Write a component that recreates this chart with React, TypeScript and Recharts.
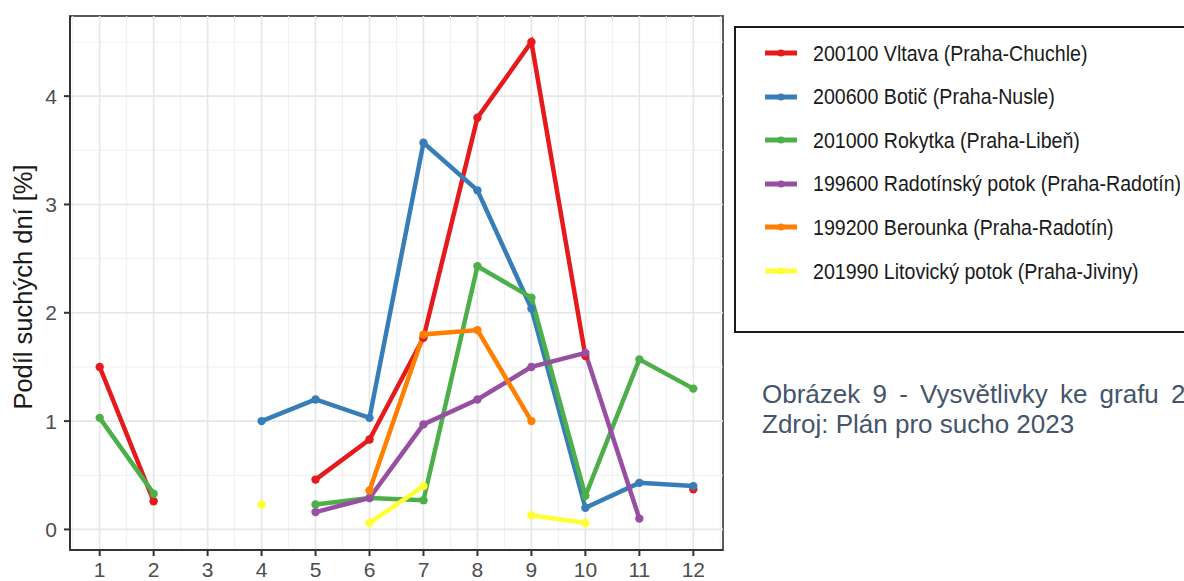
import React from "react";
import { LineChart, Line, XAxis, YAxis, ReferenceLine, ReferenceArea } from "recharts";

// měsíce 1–12, podíl suchých dní [%]
const months = [1, 2, 3, 4, 5, 6, 7, 8, 9, 10, 11, 12];
const vltava = [1.5, 0.26, null, null, 0.46, 0.83, 1.77, 3.8, 4.5, 1.6, null, 0.37];
const botic = [null, null, null, 1.0, 1.2, 1.03, 3.57, 3.13, 2.04, 0.2, 0.43, 0.4];
const rokytka = [1.03, 0.33, null, null, 0.23, 0.29, 0.27, 2.43, 2.14, 0.31, 1.57, 1.3];
const radotinsky = [null, null, null, null, 0.16, 0.29, 0.97, 1.2, 1.5, 1.63, 0.1, null];
const berounka = [null, null, null, null, null, 0.36, 1.8, 1.84, 1.0, null, null, null];
const litovicky = [null, null, null, 0.23, null, 0.06, 0.4, null, 0.13, 0.06, null, null];

const xTicks = [1, 2, 3, 4, 5, 6, 7, 8, 9, 10, 11, 12];
const yTicks = [0, 1, 2, 3, 4];
const xMinor = [0.5, 1.5, 2.5, 3.5, 4.5, 5.5, 6.5, 7.5, 8.5, 9.5, 10.5, 11.5, 12.5];
const yMinor = [0.5, 1.5, 2.5, 3.5, 4.5];

const series = [
  { key: "vltava", name: "200100 Vltava (Praha-Chuchle)", color: "#E41A1C", values: vltava },
  { key: "botic", name: "200600 Botič (Praha-Nusle)", color: "#377EB8", values: botic },
  { key: "rokytka", name: "201000 Rokytka (Praha-Libeň)", color: "#4DAF4A", values: rokytka },
  { key: "radotinsky", name: "199600 Radotínský potok (Praha-Radotín)", color: "#984EA3", values: radotinsky },
  { key: "berounka", name: "199200 Berounka (Praha-Radotín)", color: "#FF7F00", values: berounka },
  { key: "litovicky", name: "201990 Litovický potok (Praha-Jiviny)", color: "#FFFF33", values: litovicky },
];

const data = months.map((m, i) => {
  const row: Record<string, number | null> = { month: m };
  series.forEach((s) => {
    row[s.key] = s.values[i];
  });
  return row;
});

const FONT = "'Liberation Sans', Arial, Helvetica, sans-serif";
const X_DOMAIN: [number, number] = [0.45, 12.55];
const Y_DOMAIN: [number, number] = [-0.19, 4.74];

function YLabel({ viewBox }: any) {
  const x = viewBox.x + 13;
  const y = viewBox.y + viewBox.height / 2 + 4;
  return (
    <text
      x={x}
      y={y}
      transform={`rotate(-90 ${x} ${y})`}
      textAnchor="middle"
      dominantBaseline="central"
      fontSize={25.5}
      fontFamily={FONT}
      fill="#1a1a1a"
    >
      Podíl suchých dní [%]
    </text>
  );
}

function LegendBox() {
  return (
    <div
      style={{
        position: "absolute",
        left: 734,
        top: 26,
        width: 470,
        height: 307,
        boxSizing: "border-box",
        border: "2px solid #1a1a1a",
        background: "#fff",
        fontFamily: FONT,
      }}
    >
      {series.map((s, i) => (
        <div
          key={s.key}
          style={{
            position: "absolute",
            left: 29,
            top: 25 + i * 43.6 - 15,
            height: 30,
            display: "flex",
            alignItems: "center",
            whiteSpace: "nowrap",
          }}
        >
          <svg width={32} height={12} style={{ display: "block" }}>
            <line x1={0} y1={6} x2={32} y2={6} stroke={s.color} strokeWidth={5} />
            <circle cx={16} cy={6} r={3.5} fill={s.color} />
          </svg>
          <span
            style={{
              marginLeft: 16,
              fontSize: 19.6,
              color: "#1a1a1a",
              display: "inline-block",
              transform: "scaleY(1.12)",
            }}
          >
            {s.name}
          </span>
        </div>
      ))}
    </div>
  );
}

export default function App() {
  return (
    <div
      style={{
        position: "absolute",
        left: 0,
        top: 0,
        width: 1184,
        height: 581,
        overflow: "hidden",
        background: "#fff",
      }}
    >
      <div style={{ position: "absolute", left: 0, top: 0 }}>
        <LineChart width={740} height={581} data={data} margin={{ top: 16, right: 17, bottom: 0, left: 10 }}>
          <XAxis
            dataKey="month"
            type="number"
            domain={X_DOMAIN}
            ticks={xTicks}
            allowDataOverflow
            height={31}
            tickSize={6}
            tickMargin={6}
            axisLine={{ stroke: "#333", strokeWidth: 2 }}
            tickLine={{ stroke: "#333", strokeWidth: 2 }}
            tick={{ fill: "#4d4d4d", fontSize: 21, fontFamily: FONT }}
          />
          <YAxis
            type="number"
            domain={Y_DOMAIN}
            ticks={yTicks}
            allowDataOverflow
            width={60}
            tickSize={6}
            tickMargin={7}
            axisLine={{ stroke: "#333", strokeWidth: 2 }}
            tickLine={{ stroke: "#333", strokeWidth: 2 }}
            tick={{ fill: "#4d4d4d", fontSize: 21, fontFamily: FONT }}
            label={<YLabel />}
          />
          {xMinor.map((v) => (
            <ReferenceLine key={`xm${v}`} x={v} stroke="#f0f0f0" strokeWidth={1} ifOverflow="hidden" />
          ))}
          {yMinor.map((v) => (
            <ReferenceLine key={`ym${v}`} y={v} stroke="#f0f0f0" strokeWidth={1} ifOverflow="hidden" />
          ))}
          {xTicks.map((v) => (
            <ReferenceLine key={`xM${v}`} x={v} stroke="#e6e6e6" strokeWidth={1.6} ifOverflow="hidden" />
          ))}
          {yTicks.map((v) => (
            <ReferenceLine key={`yM${v}`} y={v} stroke="#e6e6e6" strokeWidth={1.6} ifOverflow="hidden" />
          ))}
          <ReferenceArea
            x1={X_DOMAIN[0]}
            x2={X_DOMAIN[1]}
            y1={Y_DOMAIN[0]}
            y2={Y_DOMAIN[1]}
            fill="none"
            stroke="#5a5a5a"
            strokeWidth={2}
            ifOverflow="visible"
          />
          {series.map((s) => (
            <Line
              key={s.key}
              dataKey={s.key}
              name={s.name}
              stroke={s.color}
              strokeWidth={4.5}
              dot={{ r: 4.2, fill: s.color, stroke: s.color, strokeWidth: 0 }}
              activeDot={false}
              isAnimationActive={false}
              connectNulls={false}
            />
          ))}
        </LineChart>
      </div>
      <LegendBox />
      <div
        style={{
          position: "absolute",
          left: 762,
          top: 379,
          fontFamily: FONT,
          fontSize: 26,
          lineHeight: "30px",
          color: "#44546a",
          whiteSpace: "nowrap",
        }}
      >
        <div style={{ wordSpacing: 5 }}>Obrázek 9 - Vysvětlivky ke grafu 2</div>
        <div>Zdroj: Plán pro sucho 2023</div>
      </div>
    </div>
  );
}
